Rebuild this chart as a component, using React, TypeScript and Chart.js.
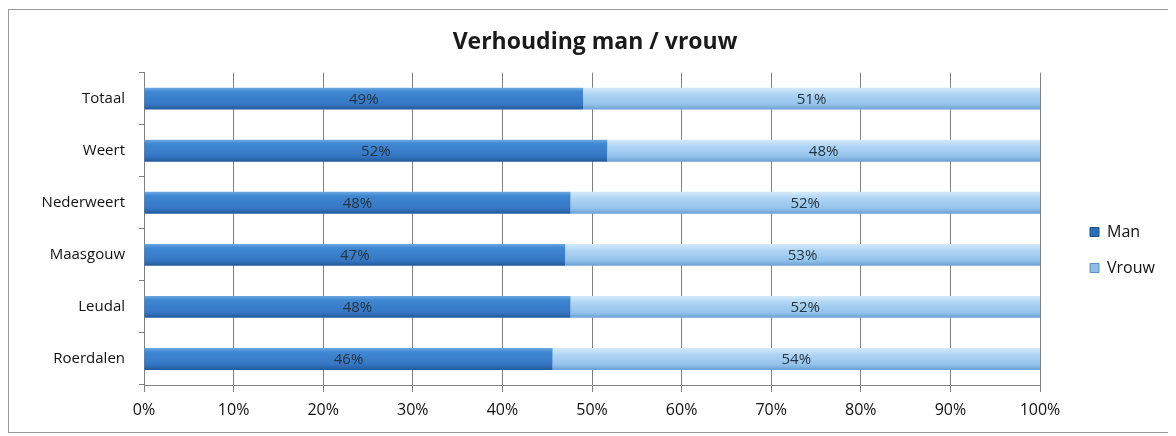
import React, { useEffect, useRef } from "react";
import { Chart, registerables } from "chart.js";

Chart.register(...registerables);

const categories = ["Totaal", "Weert", "Nederweert", "Maasgouw", "Leudal", "Roerdalen"];
const manValues = [49.0, 51.7, 47.6, 47.0, 47.6, 45.6];
const vrouwValues = [51.0, 48.3, 52.4, 53.0, 52.4, 54.4];
const xTickValues = [0, 10, 20, 30, 40, 50, 60, 70, 80, 90, 100];
const titleText = "Verhouding man / vrouw";
const seriesNames = ["Man", "Vrouw"];

const FONT = "'Open Sans', 'DejaVu Sans', sans-serif";

function makeGradient(ctx: any, stops: [number, string][], solid: string) {
  const chart = ctx.chart;
  const ys = chart.scales && chart.scales.y;
  if (ctx.type !== "data" || !ys || !chart.chartArea) return solid;
  const c = ys.getPixelForValue(ctx.dataIndex);
  const h = 11;
  const g = chart.ctx.createLinearGradient(0, c - h, 0, c + h);
  stops.forEach(([p, col]) => g.addColorStop(p, col));
  return g;
}

const dataLabelPlugin = {
  id: "dataLabels",
  afterDatasetsDraw(chart: any) {
    const ctx = chart.ctx;
    ctx.save();
    ctx.font = `15px ${FONT}`;
    ctx.fillStyle = "#26333f";
    ctx.textAlign = "center";
    ctx.textBaseline = "middle";
    chart.data.datasets.forEach((ds: any, di: number) => {
      const meta = chart.getDatasetMeta(di);
      meta.data.forEach((el: any, i: number) => {
        const v = ds.data[i];
        const x = (el.x + el.base) / 2;
        ctx.fillText(Math.round(v) + "%", x, el.y + 1);
      });
    });
    ctx.restore();
  },
};

const placePlugin = {
  id: "placeBoxes",
  afterLayout(chart: any) {
    const lg = chart.legend;
    if (lg) {
      const w = lg.width;
      const h = lg.height;
      lg.left = 1061;
      lg.right = 1061 + w;
      lg.top = 214 - (h - 52) / 2;
      lg.bottom = lg.top + h;
    }
    const tb = chart.titleBlock;
    if (tb) {
      tb.left = 0;
      tb.right = 1172;
      tb.width = 1172;
    }
  },
};

export default function App() {
  const canvasRef = useRef<HTMLCanvasElement | null>(null);

  useEffect(() => {
    document.body.style.overflow = "hidden";
    const canvas = canvasRef.current;
    if (!canvas) return;
    const chart = new Chart(canvas, {
      type: "bar",
      data: {
        labels: categories,
        datasets: [
          {
            label: seriesNames[0],
            data: manValues,
            backgroundColor: (ctx: any) =>
              makeGradient(
                ctx,
                [
                  [0, "#6ea8e2"],
                  [0.18, "#4088d3"],
                  [0.75, "#3577c4"],
                  [1, "#21599a"],
                ],
                "#3a7fcb"
              ),
            borderWidth: 0,
            barPercentage: 0.42,
            categoryPercentage: 1,
          },
          {
            label: seriesNames[1],
            data: vrouwValues,
            backgroundColor: (ctx: any) =>
              makeGradient(
                ctx,
                [
                  [0, "#d6eafa"],
                  [0.3, "#b0d5f4"],
                  [0.75, "#94c3ec"],
                  [1, "#6b9fd4"],
                ],
                "#9cc8ef"
              ),
            borderWidth: 0,
            barPercentage: 0.42,
            categoryPercentage: 1,
          },
        ],
      },
      options: {
        indexAxis: "y",
        animation: false,
        responsive: false,
        maintainAspectRatio: false,
        layout: { padding: { left: 0, right: 136, top: 0, bottom: 0 } },
        scales: {
          x: {
            stacked: true,
            min: 0,
            max: 100,
            afterBuildTicks: (scale: any) => {
              scale.ticks = xTickValues.map((v) => ({ value: v }));
            },
            afterFit: (scale: any) => {
              scale.height = 47;
            },
            ticks: {
              callback: (v: any) => v + "%",
              font: { family: FONT, size: 16 },
              color: "#111111",
              padding: 9,
              maxRotation: 0,
            },
            grid: {
              color: "#808080",
              lineWidth: 1,
              tickLength: 7,
              drawOnChartArea: true,
            },
            border: { color: "#808080", width: 1 },
          },
          y: {
            stacked: true,
            afterFit: (scale: any) => {
              scale.width = 135;
            },
            ticks: {
              font: { family: FONT, size: 15 },
              color: "#111111",
              padding: 14,
            },
            grid: {
              display: true,
              drawOnChartArea: false,
              offset: true,
              tickLength: 5,
              color: "#808080",
            },
            border: { color: "#808080", width: 1 },
          },
        },
        plugins: {
          title: {
            display: true,
            text: titleText,
            color: "#1a1a1a",
            font: { family: FONT, size: 23, weight: "bold" },
            padding: { top: 19, bottom: 16 },
          },
          legend: {
            display: true,
            position: "chartArea",
            align: "center",
            labels: {
              boxWidth: 9,
              boxHeight: 9,
              padding: 20,
              color: "#111111",
              font: { family: FONT, size: 16 },
              generateLabels: (chart: any) =>
                chart.data.datasets.map((ds: any, i: number) => ({
                  text: ds.label,
                  fillStyle: i === 0 ? "#2f6fb8" : "#8fbde8",
                  strokeStyle: i === 0 ? "#1f4f8a" : "#5f8fc4",
                  lineWidth: 1,
                  hidden: false,
                  datasetIndex: i,
                  fontColor: "#111111",
                })),
            },
          },
          tooltip: { enabled: false },
        },
      },
      plugins: [dataLabelPlugin, placePlugin],
    } as any);
    return () => chart.destroy();
  }, []);

  return (
    <div
      style={{
        marginTop: 1,
        width: 1167,
        height: 422,
        borderTop: "1px solid #9a9a9a",
        borderLeft: "1px solid #9a9a9a",
        borderBottom: "1px solid #9a9a9a",
        position: "relative",
      }}
    >
      <canvas ref={canvasRef} width={1167} height={422} style={{ display: "block" }} />
    </div>
  );
}
